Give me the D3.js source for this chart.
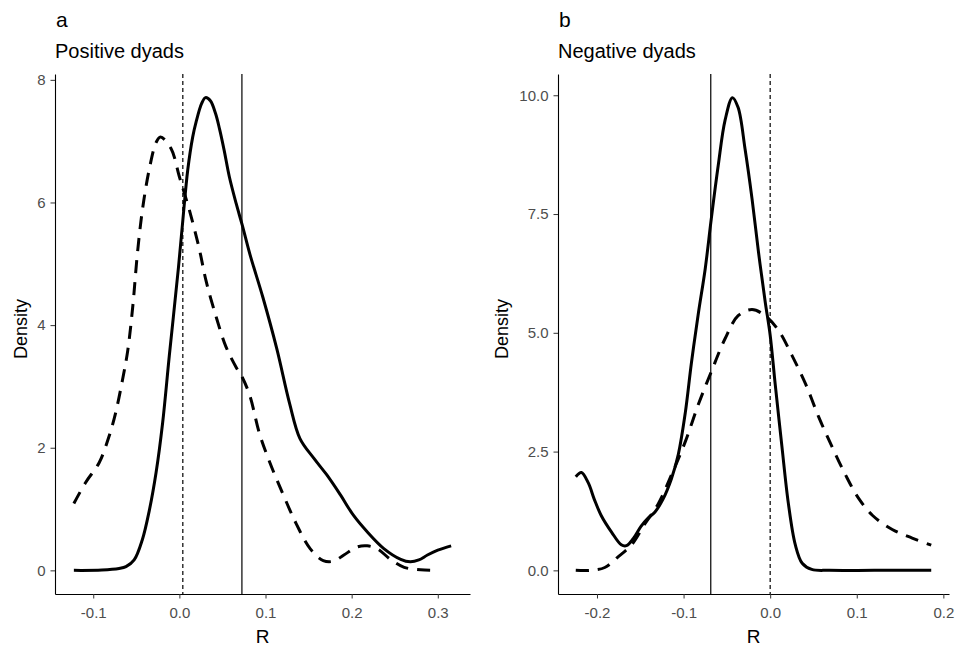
<!DOCTYPE html>
<html>
<head>
<meta charset="utf-8">
<script src="https://cdn.jsdelivr.net/npm/d3@7"></script>
<style>
body{margin:0;background:#fff;}
text{font-family:"Liberation Sans",Arial,sans-serif;}
.tick text{fill:#4d4d4d;font-size:15px;}
.tick line{stroke:#333333;}
.domain{stroke:#000;}
.curve{fill:none;stroke:#000;stroke-width:3px;stroke-linejoin:round;}
</style>
</head>
<body>
<svg id="graph"></svg>
<script>
// panel a: positive dyads
var posSolidR=[-0.1225,-0.09,-0.07,-0.062,-0.0525,-0.043,-0.035,-0.027,-0.0195,-0.0117,-0.001,0.004,0.0097,0.0155,0.0195,0.026,0.0303,0.036,0.042,0.0466,0.052,0.058,0.066,0.073,0.082,0.097,0.113,0.128,0.140,0.156,0.171,0.187,0.202,0.218,0.237,0.257,0.268,0.278,0.288,0.300,0.3155]
var posSolidD=[0,0.005,0.03,0.06,0.17,0.5,0.97,1.6,2.4,3.5,4.95,5.71,6.53,7.07,7.32,7.62,7.71,7.66,7.45,7.2,6.85,6.42,5.98,5.63,5.15,4.45,3.62,2.72,2.15,1.83,1.56,1.23,0.9,0.63,0.36,0.18,0.14,0.17,0.25,0.33,0.40]
var posDashR=[-0.1225,-0.109,-0.093,-0.082,-0.074,-0.066,-0.060,-0.054,-0.049,-0.043,-0.035,-0.027,-0.022,-0.0097,0.0,0.0117,0.023,0.031,0.043,0.054,0.066,0.073,0.082,0.093,0.105,0.121,0.136,0.152,0.167,0.179,0.191,0.206,0.218,0.230,0.245,0.261,0.280,0.300]
var posDashD=[1.09,1.43,1.76,2.17,2.57,3.11,3.58,4.32,5.13,5.87,6.54,6.98,7.07,6.88,6.42,5.87,5.25,4.72,4.12,3.65,3.31,3.15,2.84,2.23,1.76,1.22,0.75,0.35,0.16,0.15,0.25,0.38,0.40,0.35,0.18,0.05,0.01,0.0]
var posObservedR=0.0726
var posNullR=0.004
var posXTicks=[-0.1,0.0,0.1,0.2,0.3]
var posYTicks=[0,2,4,6,8]

// panel b: negative dyads
var negSolidR=[-0.2245,-0.218,-0.210,-0.203,-0.195,-0.183,-0.172,-0.166,-0.158,-0.149,-0.141,-0.133,-0.124,-0.114,-0.106,-0.098,-0.091,-0.083,-0.075,-0.068,-0.060,-0.052,-0.0436,-0.037,-0.029,-0.021,-0.0135,-0.0058,0.0,0.0058,0.0135,0.021,0.029,0.037,0.048,0.068,0.12,0.186]
var negSolidD=[1.97,2.06,1.84,1.49,1.15,0.80,0.54,0.52,0.67,0.93,1.10,1.23,1.49,1.93,2.45,3.32,4.36,5.40,6.35,7.40,8.52,9.48,9.95,9.74,8.87,7.83,6.70,5.66,4.95,3.92,2.62,1.41,0.54,0.15,0.02,0,0,0]
var negDashR=[-0.2245,-0.207,-0.191,-0.176,-0.160,-0.145,-0.129,-0.114,-0.098,-0.083,-0.068,-0.052,-0.037,-0.021,-0.0058,0.0097,0.025,0.041,0.056,0.071,0.087,0.102,0.118,0.141,0.164,0.186]
var negDashD=[0,0,0.06,0.28,0.54,0.97,1.41,2.01,2.71,3.49,4.18,4.88,5.36,5.49,5.36,5.05,4.53,3.92,3.23,2.62,2.01,1.52,1.16,0.86,0.68,0.53]
var negObservedR=-0.0686
var negNullR=0.0
var negXTicks=[-0.2,-0.1,0.0,0.1,0.2]
var negYTicks=[0,2.5,5,7.5,10]

var fmt1=function(d){return d3.format(".1f")(d).replace("\u2212","-")}
var fmt0=function(d){return d3.format("d")(d).replace("\u2212","-")}

var screen={width:957,height:648}
var plotTop=74, plotBottom=594

d3.select("#graph")
    .attr("width",screen.width)
    .attr("height",screen.height)

var expand=function(lo,hi)
    {
        var pad=(hi-lo)*0.05
        return [lo-pad,hi+pad]
    }

var drawPanel=function(p)
    {
        var svg=d3.select("#graph")
        var xs=d3.extent(p.solidR.concat(p.dashR))
        var ymax=d3.max(p.solidD.concat(p.dashD))

        var xScale=d3.scaleLinear()
            .domain(expand(xs[0],xs[1]))
            .range([p.left,p.right])
        var yScale=d3.scaleLinear()
            .domain(expand(0,ymax))
            .range([plotBottom,plotTop])

        var line=d3.line()
            .x(function(d){return xScale(d[0])})
            .y(function(d){return yScale(d[1])})
            .curve(d3.curveCatmullRom.alpha(0.5))

        // reference lines
        svg.append("line")
            .attr("x1",xScale(p.observed)).attr("x2",xScale(p.observed))
            .attr("y1",plotTop).attr("y2",plotBottom)
            .attr("stroke","#000").attr("stroke-width",1.2)
        svg.append("line")
            .attr("x1",xScale(p.nullR)).attr("x2",xScale(p.nullR))
            .attr("y1",plotTop).attr("y2",plotBottom)
            .attr("stroke","#000").attr("stroke-width",1.2)
            .attr("stroke-dasharray","4,3")

        svg.append("path")
            .datum(d3.zip(p.dashR,p.dashD))
            .classed("curve",true)
            .attr("stroke-dasharray","13,9")
            .attr("d",line)
        svg.append("path")
            .datum(d3.zip(p.solidR,p.solidD))
            .classed("curve",true)
            .attr("d",line)

        // axes
        var xAxis=d3.axisBottom(xScale)
            .tickValues(p.xTicks)
            .tickFormat(fmt1)
            .tickSize(4.5)
            .tickSizeOuter(0)
            .tickPadding(8.5)
        svg.append("g")
            .attr("transform","translate(0,"+plotBottom+")")
            .call(xAxis)
        var yAxis=d3.axisLeft(yScale)
            .tickValues(p.yTicks)
            .tickFormat(p.yFormat)
            .tickSize(4.5)
            .tickSizeOuter(0)
            .tickPadding(5)
        svg.append("g")
            .attr("transform","translate("+p.left+",0)")
            .call(yAxis)
        svg.selectAll(".domain").attr("stroke-width",1.1)

        // labels
        svg.append("text")
            .text(p.tag)
            .attr("x",p.left+1)
            .attr("y",27)
            .style("font-size","21px")
        svg.append("text")
            .text(p.title)
            .attr("x",p.left)
            .attr("y",58)
            .style("font-size","20px")
        svg.append("text")
            .text("R")
            .attr("text-anchor","middle")
            .attr("x",(p.left+p.right)/2)
            .attr("y",643)
            .style("font-size","19px")
        svg.append("text")
            .text("Density")
            .attr("text-anchor","middle")
            .attr("transform","translate("+p.ylabX+","+((plotTop+plotBottom)/2 - 5)+") rotate(-90)")
            .style("font-size","18px")
    }

drawPanel({left:55,right:470,solidR:posSolidR,solidD:posSolidD,dashR:posDashR,dashD:posDashD,
    observed:posObservedR,nullR:posNullR,xTicks:posXTicks,yTicks:posYTicks,yFormat:fmt0,
    tag:"a",title:"Positive dyads",ylabX:27})
drawPanel({left:558,right:949,solidR:negSolidR,solidD:negSolidD,dashR:negDashR,dashD:negDashD,
    observed:negObservedR,nullR:negNullR,xTicks:negXTicks,yTicks:negYTicks,yFormat:fmt1,
    tag:"b",title:"Negative dyads",ylabX:508})
</script>
</body>
</html>
